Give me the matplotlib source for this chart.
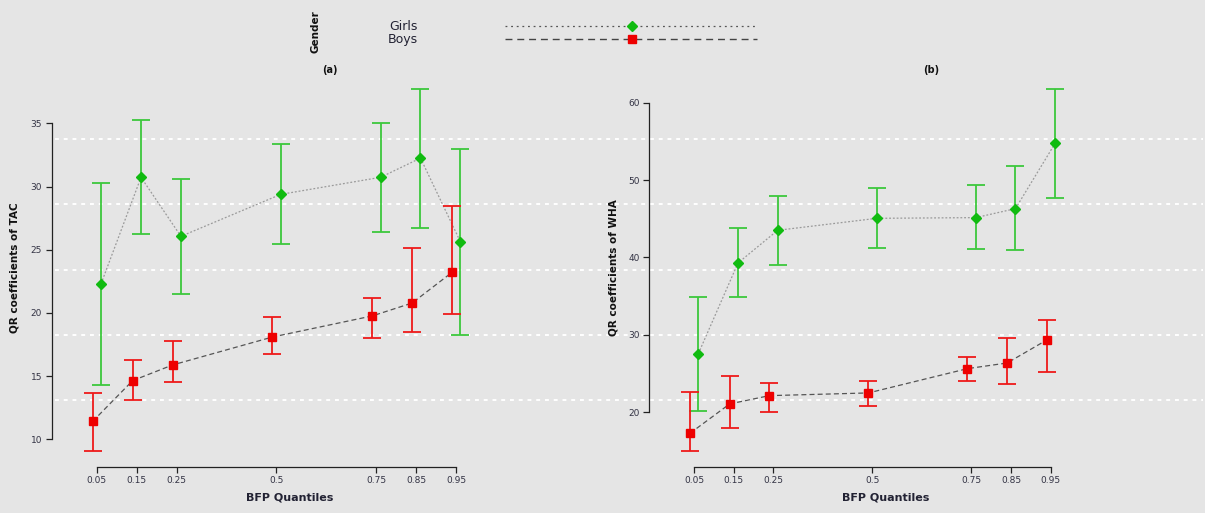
import numpy as np
import matplotlib
matplotlib.use("Agg")
import matplotlib.pyplot as plt
from matplotlib.lines import Line2D

# quantiles and estimates
quantiles = [0.05, 0.15, 0.25, 0.5, 0.75, 0.85, 0.95]
quant_labels = ["0.05", "0.15", "0.25", "0.5", "0.75", "0.85", "0.95"]

# (a) TAC
tac_girls = [22.31, 30.73, 26.06, 29.38, 30.73, 32.25, 25.63]
tac_girls_lo = [14.30, 26.24, 21.47, 25.42, 26.37, 26.72, 18.25]
tac_girls_hi = [30.30, 35.24, 30.57, 33.39, 35.00, 37.74, 32.97]
tac_boys = [11.42, 14.64, 15.88, 18.09, 19.76, 20.78, 23.21]
tac_boys_lo = [9.05, 13.09, 14.51, 16.77, 18.04, 18.46, 19.91]
tac_boys_hi = [13.64, 16.25, 17.78, 19.70, 21.16, 25.16, 28.43]

# (b) WHA
wha_girls = [27.58, 39.29, 43.51, 45.06, 45.15, 46.31, 54.75]
wha_girls_lo = [20.13, 34.85, 39.03, 41.18, 41.05, 40.97, 47.69]
wha_girls_hi = [34.94, 43.77, 47.99, 48.93, 49.32, 51.78, 61.81]
wha_boys = [17.29, 21.08, 22.15, 22.50, 25.64, 26.37, 29.34]
wha_boys_lo = [14.96, 17.93, 20.09, 20.78, 24.05, 23.66, 25.21]
wha_boys_hi = [22.58, 24.69, 23.75, 24.09, 27.19, 29.56, 31.88]

tac_ticks = [10, 15, 20, 25, 30, 35]
wha_ticks = [20, 30, 40, 50, 60]

BG = "#e5e5e5"
GREEN = "#3cc83c"
RED = "#ee1a1a"
TXT = "#333344"

W, H = 1205, 513
fig = plt.figure(figsize=(W / 100, H / 100), dpi=100)
fig.patch.set_facecolor(BG)


def px(x, y):
    return x / W, 1 - y / H


# background dotted white lines across both panels
bg = fig.add_axes([0, 0, 1, 1], zorder=0)
bg.set_xlim(0, W)
bg.set_ylim(H, 0)
bg.axis("off")
for gy in [139, 204.3, 270, 335, 400.3]:
    bg.plot([55, 1203], [gy, gy], color="white", lw=1.4, ls=(0, (2, 2.5)))


def panel(rect, xlim, ylim, yticks, g, glo, ghi, b, blo, bhi, title, title_x, xlab_x):
    ax = fig.add_axes(rect, zorder=1)
    ax.patch.set_alpha(0)
    q = np.array(quantiles)
    xg = q + 0.011
    xb = q - 0.010
    g, glo, ghi = map(np.array, (g, glo, ghi))
    b, blo, bhi = map(np.array, (b, blo, bhi))

    ax.plot(xg, g, color="#9a9a9a", lw=0.9, ls=(0, (1.5, 1.5)), zorder=2)
    ax.plot(xb, b, color="#555555", lw=0.9, ls=(0, (4, 2.5)), zorder=2)
    ax.errorbar(xg, g, yerr=[g - glo, ghi - g], fmt="none", ecolor=GREEN,
                elinewidth=1.3, capsize=6.5, capthick=1.3, zorder=3)
    ax.errorbar(xb, b, yerr=[b - blo, bhi - b], fmt="none", ecolor=RED,
                elinewidth=1.3, capsize=6.5, capthick=1.3, zorder=3)
    ax.plot(xg, g, ls="none", marker="D", ms=4.8, color="#10bb10", zorder=4)
    ax.plot(xb, b, ls="none", marker="s", ms=5.3, color="#ee0000", zorder=4)

    ax.set_xlim(*xlim)
    ax.set_ylim(*ylim)
    ax.set_xticks(quantiles)
    ax.set_xticklabels(quant_labels)
    ax.set_yticks(yticks)
    for s in ["top", "right"]:
        ax.spines[s].set_visible(False)
    ax.spines["left"].set_bounds(yticks[0], yticks[-1])
    ax.spines["bottom"].set_bounds(quantiles[0], quantiles[-1])
    for s in ["left", "bottom"]:
        ax.spines[s].set_color("#222222")
        ax.spines[s].set_linewidth(0.9)
    ax.tick_params(direction="out", length=4, width=0.9, color="#222222",
                   labelsize=6.5, labelcolor=TXT, pad=3)

    fig.text(*px(title_x, 70), title, fontsize=7, fontweight="bold",
             ha="center", va="center", color="#111111")
    fig.text(*px(xlab_x, 498), "BFP Quantiles", fontsize=8, fontweight="bold",
             ha="center", va="center", color="#222233")
    return ax


ax1 = panel([51.7 / W, 46.3 / H, (470 - 51.7) / W, 386.7 / H],
            (-0.0627, 0.985), (7.83, 38.43), tac_ticks,
            tac_girls, tac_girls_lo, tac_girls_hi,
            tac_boys, tac_boys_lo, tac_boys_hi,
            "(a)", 330, 290)
fig.text(*px(15, 268), "QR coefficients of TAC", rotation=90, fontsize=7.5,
         fontweight="bold", ha="center", va="center", color="#111111")

ax2 = panel([649.3 / W, 46.3 / H, (1065 - 649.3) / W, 386.7 / H],
            (-0.0628, 0.986), (12.97, 62.93), wha_ticks,
            wha_girls, wha_girls_lo, wha_girls_hi,
            wha_boys, wha_boys_lo, wha_boys_hi,
            "(b)", 931, 886)
fig.text(*px(613, 268), "QR coefficients of WHA", rotation=90, fontsize=7.5,
         fontweight="bold", ha="center", va="center", color="#111111")

# legend at top
fig.text(*px(315.5, 32), "Gender", rotation=90, fontsize=7.5, fontweight="bold",
         ha="center", va="center", color="#111111")
fig.text(*px(403, 27), "Girls", fontsize=9, ha="center", va="center", color="#222233")
fig.text(*px(403, 40), "Boys", fontsize=9, ha="center", va="center", color="#222233")
x0, y0 = px(505, 26)
x1, _ = px(757, 26)
fig.add_artist(Line2D([x0, x1], [y0, y0], transform=fig.transFigure,
                      color="#555555", lw=0.9, ls=(0, (1.5, 3))))
_, y1 = px(505, 39)
fig.add_artist(Line2D([x0, x1], [y1, y1], transform=fig.transFigure,
                      color="#444444", lw=1.0, ls=(0, (5, 3.5))))
mx, _ = px(632, 26)
fig.add_artist(Line2D([mx], [y0], transform=fig.transFigure, marker="D", ms=5,
                      color="#10bb10", ls="none"))
fig.add_artist(Line2D([mx], [y1], transform=fig.transFigure, marker="s", ms=6,
                      color="#ee0000", ls="none"))

fig.savefig("out.png", dpi=100, facecolor=BG)
